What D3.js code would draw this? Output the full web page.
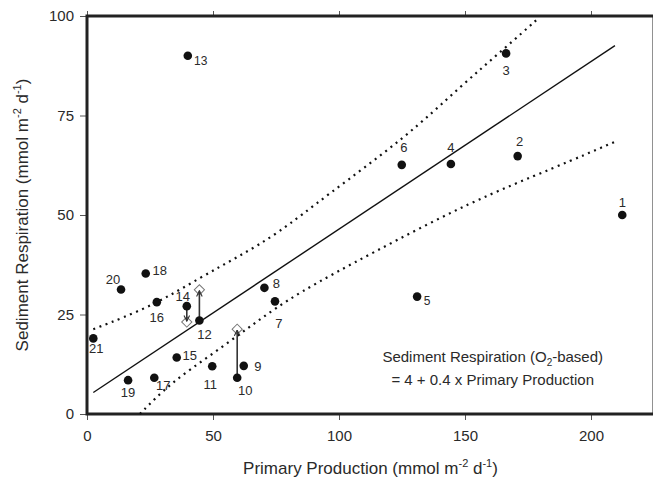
<!DOCTYPE html>
<html>
<head>
<meta charset="utf-8">
<script src="https://cdn.jsdelivr.net/npm/d3@7"></script>
<style>
  body { margin: 0; background: #fff; }
  svg { display: block; font-family: "Liberation Sans", Arial, sans-serif; }
  .tick-label { fill: #2a2a2a; font-size: 15px; }
  .axis-title { fill: #2a2a2a; font-size: 17px; }
  .site-label { fill: #2a2a2a; font-size: 13px; }
  .note { fill: #2a2a2a; font-size: 15px; }
</style>
</head>
<body>
<div id="chart"></div>
<script>
// site data
const siteIds = [1, 2, 3, 4, 5, 6, 7, 8, 9, 10, 11, 12, 13, 14, 15, 16, 17, 18, 19, 20, 21];
const primaryProduction = [212.4, 170.9, 166.3, 144.4, 131.0, 124.9, 74.6, 70.4, 62.2, 59.6, 49.7, 44.6, 40.0, 39.6, 35.6, 27.7, 26.7, 23.3, 16.3, 13.5, 2.5];
const sedimentRespiration = [50.0, 64.8, 90.6, 62.8, 29.5, 62.6, 28.3, 31.7, 12.1, 9.1, 12.0, 23.5, 90.0, 27.1, 14.2, 28.1, 9.1, 35.3, 8.5, 31.3, 19.0];

// corrected values (open diamonds) for three sites
const correctedIds = [12, 14, 10];
const correctedRespiration = [31.2, 23.1, 21.3];

// regression line
const fitIntercept = 4.35;
const fitSlope = 0.421;
const fitRange = [2.5, 209.5];

// dotted bands
const upperBandX = [2.5, 25.7, 45.5, 60.0, 75.9, 94.4, 126.9, 148.0, 166.5, 179.1];
const upperBandY = [21.3, 27.0, 34.5, 39.5, 45.4, 54.6, 69.7, 82.2, 92.3, 99.4];
const lowerBandX = [21.0, 32.9, 50.1, 67.3, 83.2, 113.0, 152.0, 186.4, 209.5];
const lowerBandY = [0.0, 7.7, 15.2, 23.2, 30.3, 40.4, 53.3, 62.1, 68.4];

const xTicks = [0, 50, 100, 150, 200];
const yTicks = [0, 25, 50, 75, 100];

// label placement relative to each point (px)
const labelOffsets = {
    1: [0, -13], 2: [2, -15], 3: [0, 17], 4: [0, -17], 5: [10, 4], 6: [2, -17],
    7: [4, 22], 8: [12, -4], 9: [14, 1], 10: [8, 13], 11: [-2, 18], 12: [5, 14],
    13: [13, 5], 14: [-4, -10], 15: [13, -2], 16: [0, 15], 17: [9, 8], 18: [14, -3],
    19: [0, 12], 20: [-8, -10], 21: [3, 10],
};
const smallLabels = [5, 13];

const width = 653;
const height = 485;
const margin = {top: 16, right: -1, bottom: 71, left: 87};
const plotW = width - margin.left - margin.right;
const plotH = height - margin.top - margin.bottom;

const svg = d3.select('#chart').append('svg')
    .attr('width', width)
    .attr('height', height);

const g = svg.append('g').attr('transform', `translate(${margin.left},${margin.top})`);

const x = d3.scaleLinear().domain([0, 225]).range([0, plotW]);
const y = d3.scaleLinear().domain([0, 100]).range([plotH, 0]);

// axes (ticks outside)
const styleAxis = (sel) => {
    sel.select('.domain').remove();
    sel.selectAll('.tick line').attr('stroke', '#555').attr('stroke-width', 1);
    sel.selectAll('.tick text').attr('class', 'tick-label').attr('font-family', null).attr('font-size', null);
};

g.append('g')
    .attr('transform', `translate(0,${plotH})`)
    .call(d3.axisBottom(x).tickValues(xTicks).tickSize(6).tickPadding(10))
    .call(styleAxis);

g.append('g')
    .call(d3.axisTop(x).tickValues(xTicks).tickSize(5).tickFormat(''))
    .call(styleAxis);

g.append('g')
    .call(d3.axisLeft(y).tickValues(yTicks).tickSize(7).tickPadding(6))
    .call(styleAxis);

// frame
g.append('rect')
    .attr('x', 0).attr('y', 0)
    .attr('width', x(225)).attr('height', plotH)
    .attr('fill', 'none')
    .attr('stroke', '#222')
    .attr('stroke-width', 3);

const plot = g.append('g');

// regression line
plot.append('line')
    .attr('x1', x(fitRange[0])).attr('y1', y(fitIntercept + fitSlope * fitRange[0]))
    .attr('x2', x(fitRange[1])).attr('y2', y(fitIntercept + fitSlope * fitRange[1]))
    .attr('stroke', '#111')
    .attr('stroke-width', 1.4);

// dotted bands
const band = d3.line().x(d => x(d[0])).y(d => y(d[1])).curve(d3.curveBasis);
[[upperBandX, upperBandY], [lowerBandX, lowerBandY]].forEach(([bx, by]) => {
    plot.append('path')
        .attr('d', band(bx.map((v, i) => [v, by[i]])))
        .attr('fill', 'none')
        .attr('stroke', '#111')
        .attr('stroke-width', 2.2)
        .attr('stroke-dasharray', '2 4.6');
});

// arrows from measured to corrected values
svg.append('defs').append('marker')
    .attr('id', 'head')
    .attr('viewBox', '0 0 10 10')
    .attr('refX', 9).attr('refY', 5)
    .attr('markerWidth', 7).attr('markerHeight', 7)
    .attr('markerUnits', 'userSpaceOnUse')
    .attr('orient', 'auto')
    .append('path')
    .attr('d', 'M1,1 L9,5 L1,9')
    .attr('fill', 'none')
    .attr('stroke', '#333')
    .attr('stroke-width', 1.6);

const diamond = d3.symbol().type(d3.symbolSquare).size(52);

correctedIds.forEach((id, i) => {
    const k = siteIds.indexOf(id);
    const px = x(primaryProduction[k]);
    const y0 = y(sedimentRespiration[k]);
    const y1 = y(correctedRespiration[i]);
    plot.append('path')
        .attr('d', diamond())
        .attr('transform', `translate(${px},${y1}) rotate(45)`)
        .attr('fill', '#fff')
        .attr('stroke', '#777')
        .attr('stroke-width', 1);
    const dir = y1 < y0 ? 1 : -1;
    plot.append('line')
        .attr('x1', px).attr('y1', y0)
        .attr('x2', px).attr('y2', y1 + dir * 1)
        .attr('stroke', '#333')
        .attr('stroke-width', 1.6)
        .attr('marker-end', 'url(#head)');
});

// points
plot.selectAll('circle.site')
    .data(siteIds)
    .join('circle')
    .attr('class', 'site')
    .attr('cx', (d, i) => x(primaryProduction[i]))
    .attr('cy', (d, i) => y(sedimentRespiration[i]))
    .attr('r', 4.3)
    .attr('fill', '#111');

plot.selectAll('text.site-label')
    .data(siteIds)
    .join('text')
    .attr('class', 'site-label')
    .attr('x', (d, i) => x(primaryProduction[i]) + labelOffsets[d][0])
    .attr('y', (d, i) => y(sedimentRespiration[i]) + labelOffsets[d][1])
    .attr('text-anchor', 'middle')
    .attr('dominant-baseline', 'central')
    .style('font-size', d => (smallLabels.includes(d) ? '12px' : null))
    .text(d => d);

// equation note
const note = plot.append('text').attr('class', 'note').attr('text-anchor', 'middle');
note.append('tspan').attr('x', x(161)).attr('y', y(13)).text('Sediment Respiration (O');
note.append('tspan').attr('font-size', '10px').attr('dy', 4).text('2');
note.append('tspan').attr('dy', -4).text('-based)');
plot.append('text').attr('class', 'note')
    .attr('text-anchor', 'middle')
    .attr('x', x(161)).attr('y', y(7.4))
    .text('= 4 + 0.4 x Primary Production');

// axis titles
const xTitle = svg.append('text').attr('class', 'axis-title')
    .attr('text-anchor', 'middle')
    .attr('x', margin.left + x(112.5)).attr('y', 474);
xTitle.append('tspan').text('Primary Production (mmol m');
xTitle.append('tspan').attr('font-size', '11px').attr('dy', -7).text('-2');
xTitle.append('tspan').attr('dy', 7).text(' d');
xTitle.append('tspan').attr('font-size', '11px').attr('dy', -7).text('-1');
xTitle.append('tspan').attr('dy', 7).text(')');

const yTitle = svg.append('text').attr('class', 'axis-title')
    .attr('text-anchor', 'middle')
    .attr('transform', `translate(28,${margin.top + plotH / 2}) rotate(-90)`);
yTitle.append('tspan').text('Sediment Respiration (mmol m');
yTitle.append('tspan').attr('font-size', '11px').attr('dy', -7).text('-2');
yTitle.append('tspan').attr('dy', 7).text(' d');
yTitle.append('tspan').attr('font-size', '11px').attr('dy', -7).text('-1');
yTitle.append('tspan').attr('dy', 7).text(')');
</script>
</body>
</html>
